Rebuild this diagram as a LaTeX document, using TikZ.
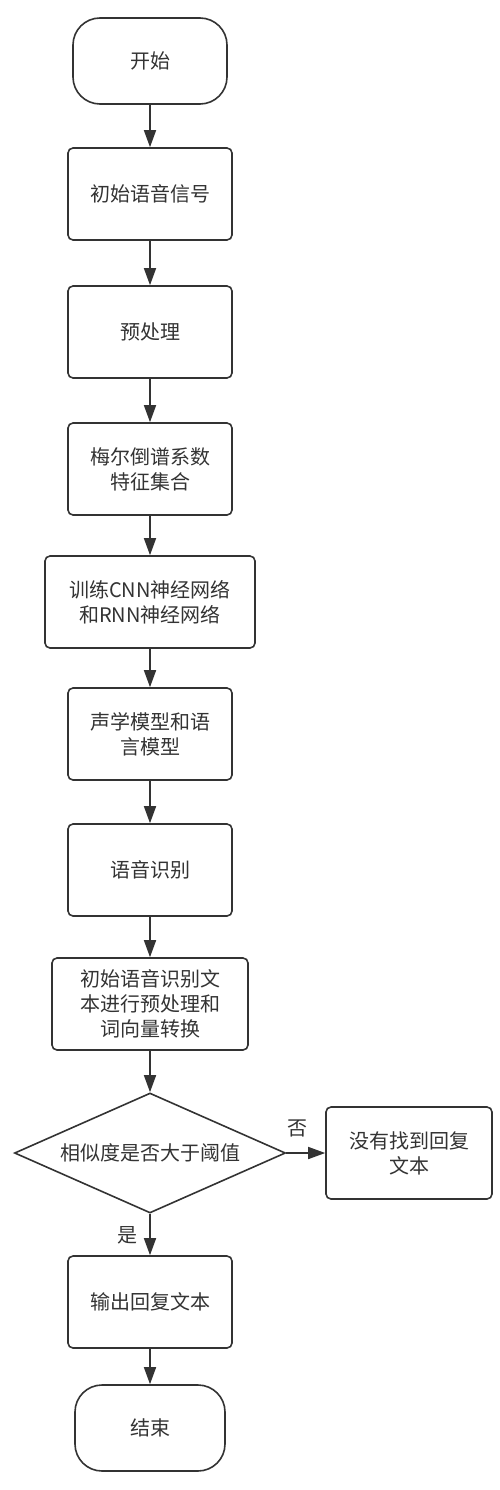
\documentclass[tikz,border=0pt]{standalone}
\usepackage{fontspec}
\setmainfont{Noto Sans CJK SC}
\usetikzlibrary{shapes.geometric,arrows.meta}
\definecolor{ink}{HTML}{333333}
\tikzset{%
	block/.style    = {draw=ink, line width=1.6pt, rectangle, rounded corners=5pt,
		minimum width=164pt, minimum height=92pt, align=center, text=ink,
		font=\fontsize{20}{25}\selectfont},
	terminal/.style = {block, rounded corners=27pt, minimum width=154pt,
		minimum height=86pt}, % Start / end
	decision/.style = {block, diamond, sharp corners, aspect=2.25, inner sep=0pt,
		minimum width=271pt, minimum height=120pt}, % Test
	tag/.style      = {text=ink, font=\fontsize{20}{25}\selectfont}, % Branch label
	flow/.style     = {draw=ink, line width=1.6pt, -{Triangle[length=17pt,width=12pt]}}
}

\begin{document}
\begin{tikzpicture}[x=1pt,y=-1pt]
			\useasboundingbox (0,0) rectangle (500,1490);
			\node[terminal]  (start)  at (150,61)   {开始};
			\node[block]     (signal) at (150,194)  {初始语音信号};
			\node[block]     (prep)   at (150,332)  {预处理};
			\node[block]     (mfcc)   at (150,469)  {梅尔倒谱系数\\特征集合};
			\node[block, minimum width=210pt] (train) at (150,602) {训练CNN神经网络\\和RNN神经网络};
			\node[block]     (model)  at (150,734)  {声学模型和语\\言模型};
			\node[block]     (recog)  at (150,870)  {语音识别};
			\node[block, minimum width=196pt] (vector) at (150,1004) {初始语音识别文\\本进行预处理和\\词向量转换};
			\node[decision]  (sim)    at (150,1153) {相似度是否大于阈值};
			\node[block, minimum width=166pt] (none) at (409,1153) {没有找到回复\\文本};
			\node[block]     (reply)  at (150,1302) {输出回复文本};
			\node[terminal, minimum width=150pt] (stop) at (150,1428) {结束};
			\node[tag]       (no)     at (297,1128) {否};
			\node[tag]       (yes)    at (127,1235) {是};
			
			\draw[flow] (start)  -- (signal);
			\draw[flow] (signal) -- (prep);
			\draw[flow] (prep)   -- (mfcc);
			\draw[flow] (mfcc)   -- (train);
			\draw[flow] (train)  -- (model);
			\draw[flow] (model)  -- (recog);
			\draw[flow] (recog)  -- (vector);
			\draw[flow] (vector) -- (sim);
			\draw[flow] (sim.east)  -- (none.west);
			\draw[flow] (sim.south) -- (reply);
			\draw[flow] (reply)  -- (stop);
		\end{tikzpicture}
\end{document}
